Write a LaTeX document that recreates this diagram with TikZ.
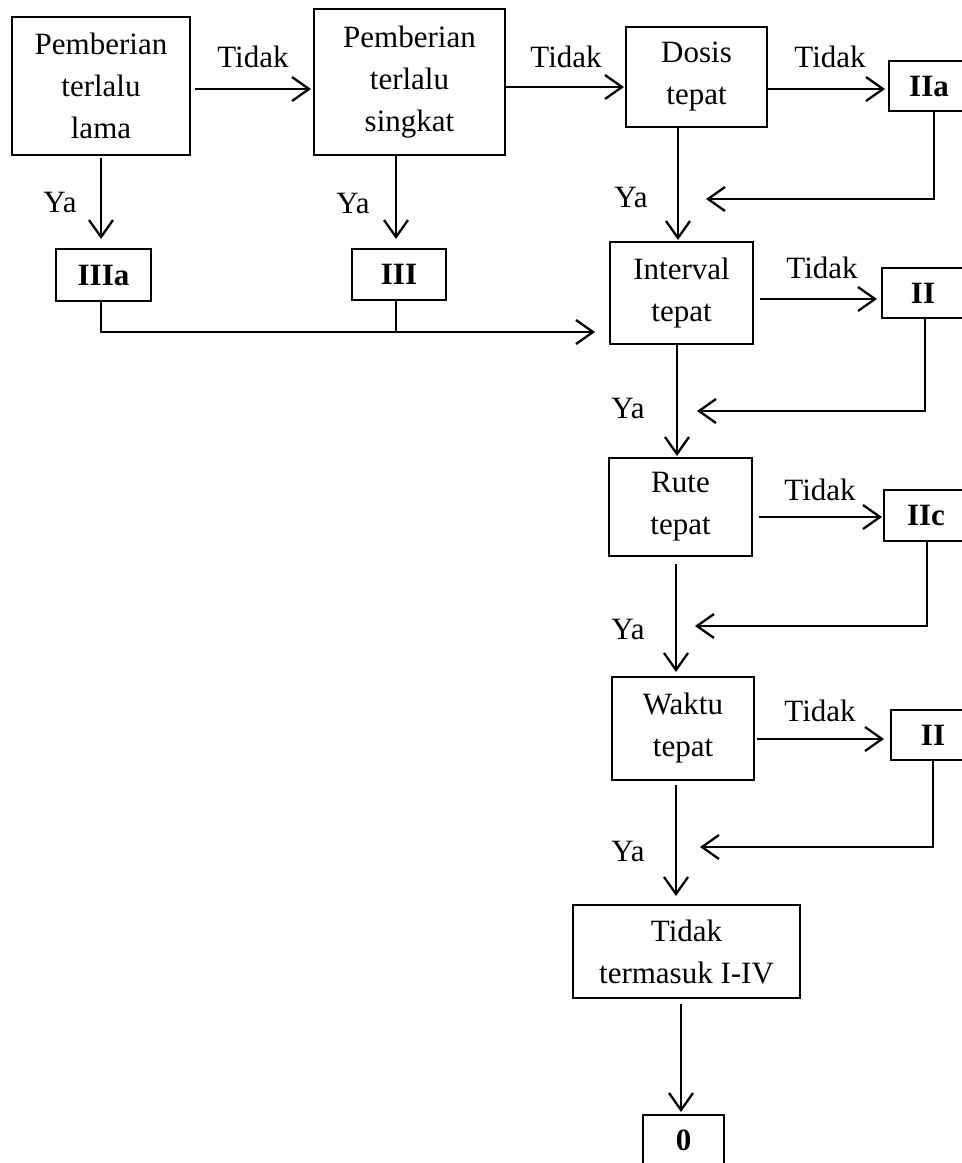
\documentclass[tikz,border=0pt]{standalone}
\usepackage{fontspec}
\setmainfont{Liberation Serif}
\usetikzlibrary{arrows.meta}
\begin{document}
\begin{tikzpicture}[x=1pt,y=-1pt,
  box/.style={draw, line width=2pt, align=center, inner sep=0pt, font=\fontsize{31}{42}\selectfont},
  tag/.style={box, font=\fontsize{31}{42}\selectfont\bfseries},
  lbl/.style={inner sep=0pt, font=\fontsize{31}{42}\selectfont},
  arr/.style={line width=2.3pt, -{Straight Barb[length=17pt,width=24pt,line width=2.3pt]}},
  ln/.style={line width=2.3pt}]
\fill[white] (0,0) rectangle (962,1163);
\useasboundingbox (0,0) rectangle (962,1163);
\clip (0,0) rectangle (962,1163);

% boxes
\node[box, minimum width=178pt, minimum height=138pt] (b1) at (101,86) {Pemberian\\terlalu\\lama};
\node[box, minimum width=191pt, minimum height=146pt] (b2) at (409.5,82) {Pemberian\\terlalu\\singkat};
\node[box, minimum width=141pt, minimum height=100pt] (dosis) at (696.5,77) {Dosis\\tepat};
\node[tag, minimum width=80pt, minimum height=50pt] (IIa) at (929,86) {IIa};
\node[tag, minimum width=95pt, minimum height=52pt] (IIIa) at (103.5,275) {IIIa};
\node[tag, minimum width=94pt, minimum height=51pt] (III) at (399,274.5) {III};
\node[box, minimum width=143pt, minimum height=102pt] (interval) at (681.5,293) {Interval\\tepat};
\node[tag, minimum width=82pt, minimum height=50pt] (IIb) at (923,293) {II};
\node[box, minimum width=143pt, minimum height=98pt] (rute) at (680.5,507) {Rute\\tepat};
\node[tag, minimum width=84pt, minimum height=51pt] (IIc) at (926,515.5) {IIc};
\node[box, minimum width=142pt, minimum height=103pt] (waktu) at (683,728.5) {Waktu\\tepat};
\node[tag, minimum width=84pt, minimum height=50pt] (IId) at (933,735) {II};
\node[box, minimum width=227pt, minimum height=93pt] (tt) at (686.5,951.5) {Tidak\\termasuk I-IV};
\node[tag, minimum width=81pt, minimum height=50pt] (zero) at (683.5,1140) {0};

% free ends
\coordinate (r1) at (706,199);
\coordinate (j) at (595,332);
\coordinate (r2) at (697,411);
\coordinate (r3) at (695,626);
\coordinate (r4) at (700,847);

% connectors
\draw[arr, shorten <=4pt, shorten >=2pt] ([yshift=-3pt]b1.east) -- ([yshift=-3pt]b1.east -| b2.west);
\draw[arr, shorten >=1pt] ([yshift=-5pt]b2.east) -- ([yshift=-5pt]b2.east -| dosis.west);
\draw[arr, shorten >=3pt] ([yshift=-12pt]dosis.east) -- ([yshift=-12pt]dosis.east -| IIa.west);
\draw[arr, shorten <=2pt, shorten >=9pt] (b1.south) -- (b1.south |- IIIa.north);
\draw[arr, shorten >=9pt] ([xshift=-13.5pt]b2.south) -- ([xshift=-13.5pt]b2.south |- III.north);
\draw[arr, shorten >=1pt] ([xshift=-3.5pt]interval.north |- dosis.south) -- ([xshift=-3.5pt]interval.north);
\draw[arr] ([xshift=5pt]IIa.south) |- (r1);
\draw[arr] ([xshift=-2.5pt]IIIa.south) |- (j);
\draw[ln] ([xshift=-3pt]III.south) -- ([xshift=-3pt]III.south |- j);
\draw[arr, shorten <=6pt, shorten >=4pt] ([yshift=-6pt]interval.east) -- ([yshift=-6pt]interval.east -| IIb.west);
\draw[arr] ([xshift=2pt]IIb.south) |- (r2);
\draw[arr, shorten >=1pt] ([xshift=-4.5pt]interval.south) -- ([xshift=-4.5pt]interval.south |- rute.north);
\draw[arr, shorten <=6pt, shorten >=1pt] ([yshift=-10pt]rute.east) -- ([yshift=-10pt]rute.east -| IIc.west);
\draw[arr] ([xshift=1pt]IIc.south) |- (r3);
\draw[arr, shorten <=7pt, shorten >=4pt] ([xshift=-4.5pt]rute.south) -- ([xshift=-4.5pt]rute.south |- waktu.north);
\draw[arr, shorten <=2pt, shorten >=6pt] ([yshift=-10.5pt]waktu.east) -- ([yshift=-10.5pt]waktu.east -| IId.west);
\draw[arr] (IId.south) |- (r4);
\draw[arr, shorten <=4pt, shorten >=8pt] ([xshift=-7pt]waktu.south) -- ([xshift=-7pt]waktu.south |- tt.north);
\draw[arr, shorten <=5pt, shorten >=2pt] ([xshift=-5.5pt]tt.south) -- ([xshift=-5.5pt]tt.south |- zero.north);

% labels
\node[lbl] (t1) at (253,57) {Tidak};
\node[lbl] (t2) at (566,57) {Tidak};
\node[lbl] (t3) at (830,57) {Tidak};
\node[lbl] (t4) at (822,268) {Tidak};
\node[lbl] (t5) at (820,490) {Tidak};
\node[lbl] (t6) at (820,711) {Tidak};
\node[lbl] (y1) at (60,202) {Ya};
\node[lbl] (y2) at (353,203) {Ya};
\node[lbl] (y3) at (631,197) {Ya};
\node[lbl] (y4) at (628,408) {Ya};
\node[lbl] (y5) at (628,629) {Ya};
\node[lbl] (y6) at (628,851) {Ya};
\end{tikzpicture}
\end{document}
